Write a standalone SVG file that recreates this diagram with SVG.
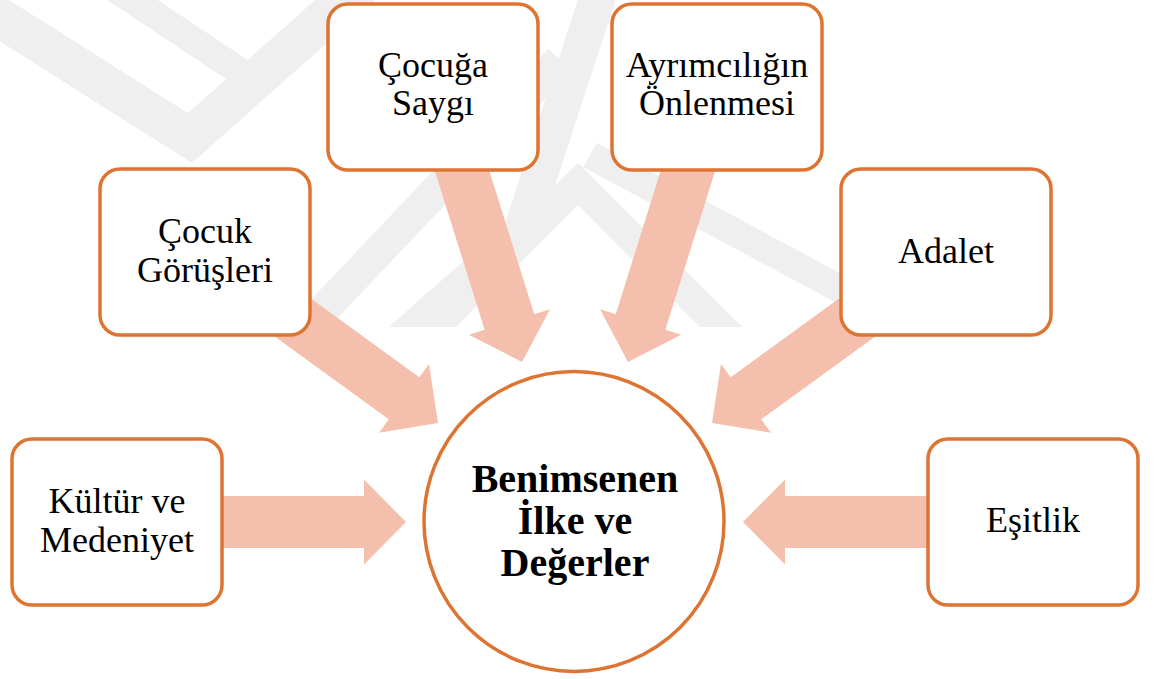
<svg xmlns="http://www.w3.org/2000/svg" width="1155" height="679" viewBox="0 0 1155 679">
  <defs>
    <style>
      .wm { fill: none; stroke: #efefef; stroke-linejoin: miter; stroke-linecap: butt; }
      .box { fill: #ffffff; stroke: #DE7432; stroke-width: 3.5; }
      .circ { fill: #ffffff; stroke: #DE7432; stroke-width: 3.5; }
      .arr { fill: #F4C0AD; stroke: none; }
      text { font-family: "Liberation Serif", "Times New Roman", Times, serif; fill: #000000; text-anchor: middle; }
      .t { font-size: 36px; font-weight: normal; font-style: normal; }
      .tb { font-size: 40px; font-weight: bold; }
    </style>
    <clipPath id="wmclip"><rect x="0" y="0" width="1155" height="327"/></clipPath>
    <path id="blockArrow" d="M0,0 L-42,-42.5 L-42,-26 L-260,-26 L-260,26 L-42,26 L-42,42.5 Z"/>
  </defs>

  <rect x="0" y="0" width="1155" height="679" fill="#ffffff"/>

  <g id="watermark" clip-path="url(#wmclip)">
    <polyline class="wm" stroke-width="40" points="-30,-1 190,138 370,-22"/>
    <polyline class="wm" stroke-width="28" points="95,-25 245,75"/>
    <polyline class="wm" stroke-width="30" points="420,342 578,184 736,342"/>
    <polyline class="wm" stroke-width="28" points="590,155 870,305"/>
    <polyline class="wm" stroke-width="36" points="600,-10 520,235 390,350"/>
    <polyline class="wm" stroke-width="32" points="290,345 560,60"/>
  </g>

  <g id="connectors">
    <use href="#blockArrow" class="arr" transform="translate(406,522)"/>
    <use href="#blockArrow" class="arr" transform="translate(743,522) rotate(180)"/>
    <use href="#blockArrow" class="arr" transform="translate(438,423) rotate(36)"/>
    <use href="#blockArrow" class="arr" transform="translate(712,423) rotate(144)"/>
    <use href="#blockArrow" class="arr" transform="translate(522,362) rotate(72.6)"/>
    <use href="#blockArrow" class="arr" transform="translate(628,362) rotate(107.4)"/>
  </g>

  <g id="node-cocuga-saygi">
    <rect class="box" x="328" y="4" width="210" height="166" rx="20"/>
    <text class="t" x="433" y="77">Çocuğa</text>
    <text class="t" x="433" y="115">Saygı</text>
  </g>
  <g id="node-ayrimciligin">
    <rect class="box" x="612" y="4" width="210" height="166" rx="20"/>
    <text class="t" x="717" y="77">Ayrımcılığın</text>
    <text class="t" x="717" y="115">Önlenmesi</text>
  </g>
  <g id="node-cocuk-gorusleri">
    <rect class="box" x="100" y="169" width="210" height="166" rx="20"/>
    <text class="t" x="205" y="243">Çocuk</text>
    <text class="t" x="205" y="282">Görüşleri</text>
  </g>
  <g id="node-adalet">
    <rect class="box" x="841" y="169" width="210" height="166" rx="20"/>
    <text class="t" x="946" y="263">Adalet</text>
  </g>
  <g id="node-kultur">
    <rect class="box" x="12" y="439" width="210" height="166" rx="20"/>
    <text class="t" x="117" y="513">Kültür ve</text>
    <text class="t" x="117" y="552">Medeniyet</text>
  </g>
  <g id="node-esitlik">
    <rect class="box" x="928" y="439" width="210" height="166" rx="20"/>
    <text class="t" x="1033" y="532">Eşitlik</text>
  </g>
  <g id="node-center">
    <circle class="circ" cx="574" cy="521.5" r="150"/>
    <text class="tb" x="575" y="492">Benimsenen</text>
    <text class="tb" x="575" y="534">İlke ve</text>
    <text class="tb" x="575" y="576">Değerler</text>
  </g>
</svg>
